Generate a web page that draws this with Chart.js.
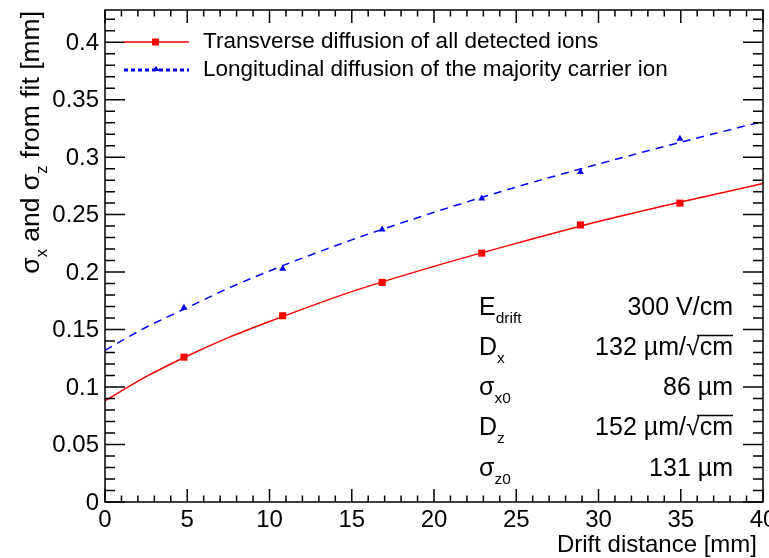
<!DOCTYPE html>
<html>
<head>
<meta charset="utf-8">
<script src="https://cdn.jsdelivr.net/npm/chart.js@4/dist/chart.umd.min.js"></script>
<style>
  html, body { margin: 0; padding: 0; background: #fff; }
  #wrap { width: 769px; height: 558px; }
</style>
</head>
<body>
<div id="wrap"><canvas id="diffusion"></canvas></div>
<script>
// measured widths at each drift distance [mm]
var distance = [4.8, 10.8, 16.85, 22.9, 28.9, 34.95];
var sigmaX = [0.126, 0.162, 0.191, 0.2165, 0.241, 0.260];
var sigmaZ = [0.169, 0.203, 0.237, 0.264, 0.287, 0.316];

// fitted curves, sampled along the drift distance
var fitDistance = [0, 2.5, 5, 7.5, 10, 15, 20, 25, 30, 35, 40];
var fitX = [0.088, 0.109, 0.127, 0.143, 0.157, 0.183, 0.205, 0.225, 0.244, 0.261, 0.277];
var fitZ = [0.132, 0.152, 0.169, 0.186, 0.201, 0.228, 0.252, 0.274, 0.294, 0.313, 0.331];

var xTicks = [0, 5, 10, 15, 20, 25, 30, 35, 40];
var xTickLabels = ['0', '5', '10', '15', '20', '25', '30', '35', '40'];
var yTicks = [0, 0.05, 0.1, 0.15, 0.2, 0.25, 0.3, 0.35, 0.4];
var yTickLabels = ['0', '0.05', '0.1', '0.15', '0.2', '0.25', '0.3', '0.35', '0.4'];

var legendLabels = ['Transverse diffusion of all detected ions',
                    'Longitudinal diffusion of the majority carrier ion'];

var RED = '#ff0000', BLUE = '#0000ff';
var FONT = '"Liberation Sans", Arial, Helvetica, sans-serif';

function pairs(xs, ys) {
    return xs.map(function (x, i) { return {x: x, y: ys[i]}; });
}

// text with optional subscript pieces: [[text, isSub], ...]
function richText(ctx, parts, x, y, size, align) {
    var w = 0;
    parts.forEach(function (p) {
        ctx.font = (p[1] ? size * 0.62 : size) + 'px ' + FONT;
        w += ctx.measureText(p[0]).width;
    });
    var cx = align === 'right' ? x - w : x;
    parts.forEach(function (p) {
        ctx.font = (p[1] ? size * 0.62 : size) + 'px ' + FONT;
        ctx.fillText(p[0], cx, p[1] ? y + size * 0.3 : y);
        cx += ctx.measureText(p[0]).width;
    });
    return w;
}

// "NNN µm/√cm" with the root bar over cm
function sqrtUnit(ctx, num, xRight, y, size) {
    ctx.font = size + 'px ' + FONT;
    var cmW = ctx.measureText('cm').width;
    var rootW = ctx.measureText('\u221A').width;
    var headW = ctx.measureText(num + ' \u00B5m/').width;
    var x0 = xRight - cmW - rootW - headW;
    ctx.fillText(num + ' \u00B5m/', x0, y);
    ctx.fillText('\u221A', x0 + headW, y);
    ctx.fillText('cm', x0 + headW + rootW, y);
    ctx.lineWidth = 1.3;
    ctx.beginPath();
    ctx.moveTo(x0 + headW + rootW * 0.8, y - size * 0.78);
    ctx.lineTo(xRight, y - size * 0.78);
    ctx.stroke();
}

var rootFrame = {
    id: 'rootFrame',
    afterDraw: function (chart) {
        var ctx = chart.ctx, a = chart.chartArea;
        var sx = chart.scales.x, sy = chart.scales.y;
        ctx.save();
        ctx.strokeStyle = '#000';
        ctx.fillStyle = '#000';
        ctx.lineWidth = 1.5;
        ctx.strokeRect(a.left, a.top, a.right - a.left, a.bottom - a.top);

        // ticks on all four sides, pointing inwards
        ctx.beginPath();
        for (var i = 0; i <= 40; i++) {
            var px = sx.getPixelForValue(i);
            var len = i % 5 === 0 ? 13 : 6.5;
            ctx.moveTo(px, a.bottom); ctx.lineTo(px, a.bottom - len);
            ctx.moveTo(px, a.top); ctx.lineTo(px, a.top + len);
        }
        for (var j = 0; j <= 42; j++) {
            var py = sy.getPixelForValue(j / 100);
            var ylen = j % 5 === 0 ? 20 : 10;
            ctx.moveTo(a.left, py); ctx.lineTo(a.left + ylen, py);
            ctx.moveTo(a.right, py); ctx.lineTo(a.right - ylen, py);
        }
        ctx.stroke();

        // tick labels
        ctx.font = '24px ' + FONT;
        ctx.textAlign = 'right';
        ctx.textBaseline = 'middle';
        yTicks.forEach(function (v, k) {
            ctx.fillText(yTickLabels[k], a.left - 6, sy.getPixelForValue(v) + 1);
        });
        ctx.textAlign = 'center';
        ctx.textBaseline = 'top';
        xTicks.forEach(function (v, k) {
            ctx.fillText(xTickLabels[k], sx.getPixelForValue(v), a.bottom + 6);
        });

        // axis titles
        ctx.textAlign = 'right';
        ctx.textBaseline = 'alphabetic';
        ctx.fillText('Drift distance [mm]', a.right - 6, 552);
        ctx.save();
        ctx.translate(39, a.top + 1);
        ctx.rotate(-Math.PI / 2);
        ctx.textAlign = 'left';
        richText(ctx, [['\u03C3', false], ['x', true], [' and \u03C3', false], ['z', true],
                       [' from fit [mm]', false]], 0, 0, 26.5, 'right');
        ctx.restore();

        // legend
        ctx.textAlign = 'left';
        ctx.textBaseline = 'middle';
        ctx.font = '22.5px ' + FONT;
        ctx.lineWidth = 1.5;
        ctx.strokeStyle = RED;
        ctx.beginPath(); ctx.moveTo(124, 42); ctx.lineTo(189, 42); ctx.stroke();
        ctx.fillStyle = RED;
        ctx.fillRect(152, 38.5, 7, 7);
        ctx.strokeStyle = BLUE;
        ctx.lineWidth = 3;
        ctx.setLineDash([4, 3]);
        ctx.beginPath(); ctx.moveTo(124, 70); ctx.lineTo(189, 70); ctx.stroke();
        ctx.setLineDash([]);
        ctx.fillStyle = BLUE;
        ctx.beginPath(); ctx.moveTo(152, 71); ctx.lineTo(160, 71); ctx.lineTo(156, 66); ctx.fill();
        ctx.fillStyle = '#000';
        ctx.fillText(legendLabels[0], 203, 42);
        ctx.fillText(legendLabels[1], 203, 70);

        // fit parameters
        ctx.textBaseline = 'alphabetic';
        var rows = [315, 355, 395, 435, 476];
        var fs = 25;
        richText(ctx, [['E', false], ['drift', true]], 479, rows[0], fs, 'left');
        richText(ctx, [['D', false], ['x', true]], 479, rows[1], fs, 'left');
        richText(ctx, [['\u03C3', false], ['x0', true]], 479, rows[2], fs, 'left');
        richText(ctx, [['D', false], ['z', true]], 479, rows[3], fs, 'left');
        richText(ctx, [['\u03C3', false], ['z0', true]], 479, rows[4], fs, 'left');
        ctx.font = fs + 'px ' + FONT;
        ctx.textAlign = 'right';
        ctx.fillText('300 V/cm', 733, rows[0]);
        ctx.fillText('86 \u00B5m', 733, rows[2]);
        ctx.fillText('131 \u00B5m', 733, rows[4]);
        ctx.textAlign = 'left';
        ctx.strokeStyle = '#000';
        sqrtUnit(ctx, '132', 733, rows[1], fs);
        sqrtUnit(ctx, '152', 733, rows[3], fs);
        ctx.restore();
    }
};

new Chart(document.getElementById('diffusion'), {
    type: 'scatter',
    data: {
        datasets: [{
                label: 'sigma x',
                data: pairs(distance, sigmaX),
                showLine: false,
                pointStyle: 'rect',
                pointRadius: 5,
                backgroundColor: RED,
                borderColor: RED,
                borderWidth: 0,
                order: 0
            }, {
                label: 'sigma z',
                data: pairs(distance, sigmaZ),
                showLine: false,
                pointStyle: 'triangle',
                pointRadius: 4,
                backgroundColor: BLUE,
                borderColor: BLUE,
                borderWidth: 0,
                order: 0
            }, {
                label: 'fit x',
                data: pairs(fitDistance, fitX),
                showLine: true,
                pointRadius: 0,
                borderColor: RED,
                borderWidth: 1.5,
                cubicInterpolationMode: 'monotone',
                order: 1
            }, {
                label: 'fit z',
                data: pairs(fitDistance, fitZ),
                showLine: true,
                pointRadius: 0,
                borderColor: BLUE,
                borderWidth: 1.5,
                borderDash: [8, 6],
                cubicInterpolationMode: 'monotone',
                order: 1
            }]
    },
    options: {
        responsive: true,
        maintainAspectRatio: false,
        animation: false,
        layout: {padding: {left: 105, right: 6, top: 10, bottom: 56}},
        plugins: {legend: {display: false}, tooltip: {enabled: false}},
        scales: {
            x: {type: 'linear', min: 0, max: 40, display: false},
            y: {type: 'linear', min: 0, max: 0.428, display: false}
        }
    },
    plugins: [rootFrame]
});
</script>
</body>
</html>
